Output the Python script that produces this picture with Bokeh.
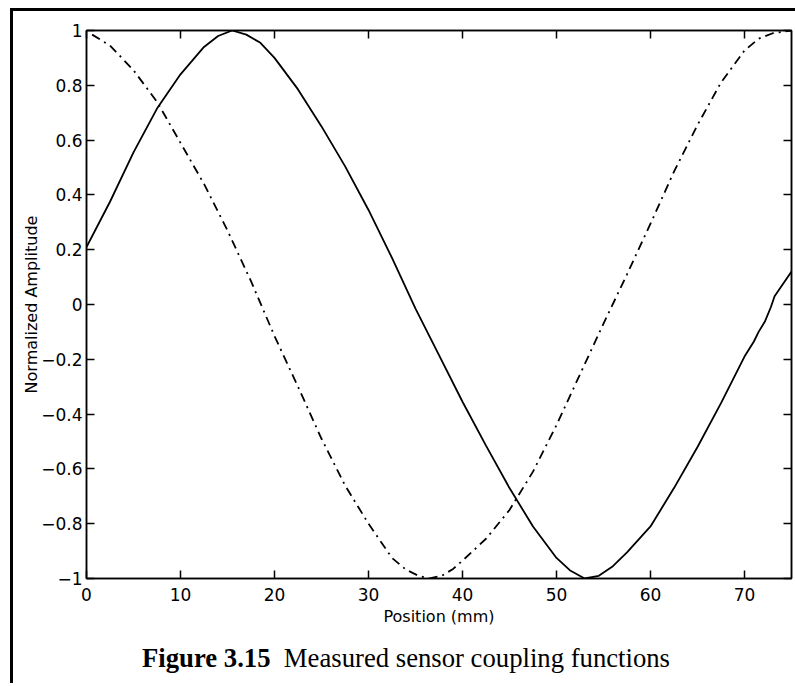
from bokeh.plotting import figure
from bokeh.models import (LinearAxis, FixedTicker, CustomJSTickFormatter, Range1d, Div)
from bokeh.layouts import column
from bokeh.embed import file_html
from bokeh.resources import INLINE

# ---------------- data ----------------
x_ticks = [0, 10, 20, 30, 40, 50, 60, 70]
y_ticks = [-1, -0.8, -0.6, -0.4, -0.2, 0, 0.2, 0.4, 0.6, 0.8, 1]

solid_x = [0, 2.5, 5, 7.5, 10, 12.5, 14, 15.5, 17, 18.5, 20, 22.5, 25, 27.5, 30,
           32.5, 35, 37.5, 40, 42.5, 45, 47.5, 50, 51.5, 53, 54.5, 56, 57.5, 60,
           62.5, 65, 67.5, 70, 71, 71.5, 72.2, 72.8, 73.2, 74, 75]
solid_y = [0.21, 0.375, 0.555, 0.715, 0.84, 0.94, 0.98, 1.0, 0.985, 0.955, 0.90,
           0.785, 0.65, 0.505, 0.345, 0.17, -0.015, -0.185, -0.355, -0.515,
           -0.67, -0.81, -0.925, -0.972, -1.0, -0.99, -0.955, -0.905, -0.81,
           -0.67, -0.52, -0.36, -0.19, -0.135, -0.10, -0.06, -0.01, 0.03, 0.07,
           0.12]

dash_x = [0.6, 2.5, 5, 7.5, 10, 12.5, 15, 17.5, 20, 22.5, 25, 27.5, 30, 32.5,
          34, 35.3, 36.5, 37.8, 39, 40, 42.5, 45, 47.5, 50, 52.5, 55, 57.5, 60,
          62.5, 65, 67.5, 70, 71.5, 73, 75]
dash_y = [0.985, 0.945, 0.855, 0.74, 0.59, 0.44, 0.27, 0.085, -0.115, -0.30,
          -0.49, -0.66, -0.80, -0.925, -0.968, -0.99, -1.0, -0.99, -0.965,
          -0.935, -0.855, -0.75, -0.61, -0.44, -0.255, -0.07, 0.11, 0.295, 0.485,
          0.655, 0.81, 0.927, 0.97, 0.99, 1.0]

x_label = "Position (mm)"
y_label = "Normalized Amplitude"
caption_bold = "Figure 3.15"
caption_text = "Measured sensor coupling functions"

# ---------------- figure ----------------
p = figure(width=782, height=625, output_backend="svg", toolbar_location=None,
           x_range=Range1d(0, 75), y_range=Range1d(-1, 1),
           min_border_left=73, min_border_top=19, min_border_right=4,
           min_border_bottom=58, x_axis_label=x_label, y_axis_label=y_label,
           background_fill_color="white", border_fill_color="white")
p.grid.visible = False
p.outline_line_color = "black"
p.outline_line_width = 1.5

fmt_code = """
const v = Math.round(tick * 10) / 10;
let s = v.toString();
if (v < 0) { s = "\\u2212" + Math.abs(v).toString(); }
return s;
"""


def style_axis(ax, show_labels=True):
    ax.axis_line_color = "black"
    ax.axis_line_width = 1.5
    ax.major_tick_line_color = "black"
    ax.major_tick_line_width = 1.5
    ax.major_tick_in = 8
    ax.major_tick_out = 0
    ax.minor_tick_line_color = None
    ax.major_label_text_font = "DejaVu Sans"
    ax.major_label_text_font_size = "17px"
    ax.major_label_text_color = "black"
    ax.axis_label_text_font = "DejaVu Sans"
    ax.axis_label_text_font_size = "16px"
    ax.axis_label_text_font_style = "normal"
    ax.axis_label_text_color = "black"
    if not show_labels:
        ax.formatter = CustomJSTickFormatter(code="return '';")
        ax.major_label_standoff = 0
    else:
        ax.formatter = CustomJSTickFormatter(code=fmt_code)


xa = p.xaxis[0]
xa.ticker = FixedTicker(ticks=x_ticks)
style_axis(xa)
xa.major_label_standoff = 9
xa.axis_label_standoff = 3

ya = p.yaxis[0]
ya.ticker = FixedTicker(ticks=y_ticks)
style_axis(ya)
ya.major_label_standoff = 4
ya.axis_label_standoff = -3

top = LinearAxis(ticker=FixedTicker(ticks=x_ticks))
style_axis(top, show_labels=False)
p.add_layout(top, "above")
right = LinearAxis(ticker=FixedTicker(ticks=y_ticks))
style_axis(right, show_labels=False)
p.add_layout(right, "right")

p.line(solid_x, solid_y, line_color="black", line_width=1.8)
p.line(dash_x, dash_y, line_color="black", line_width=1.8, line_dash="9 5 2 5")

caption = Div(text="<b>" + caption_bold + "</b>&nbsp;&nbsp;" + caption_text,
              width=700, height=40, margin=(7, 0, 0, 129),
              styles={"font-family": "'Liberation Serif', serif",
                      "font-size": "26.7px", "line-height": "30px",
                      "color": "black", "white-space": "nowrap"})

layout = column(p, caption, spacing=0,
                styles={"border-left": "3px solid black",
                        "border-top": "3px solid black",
                        "margin-left": "10px", "margin-top": "8px"})

open("out.html", "w").write(file_html(layout, INLINE))
